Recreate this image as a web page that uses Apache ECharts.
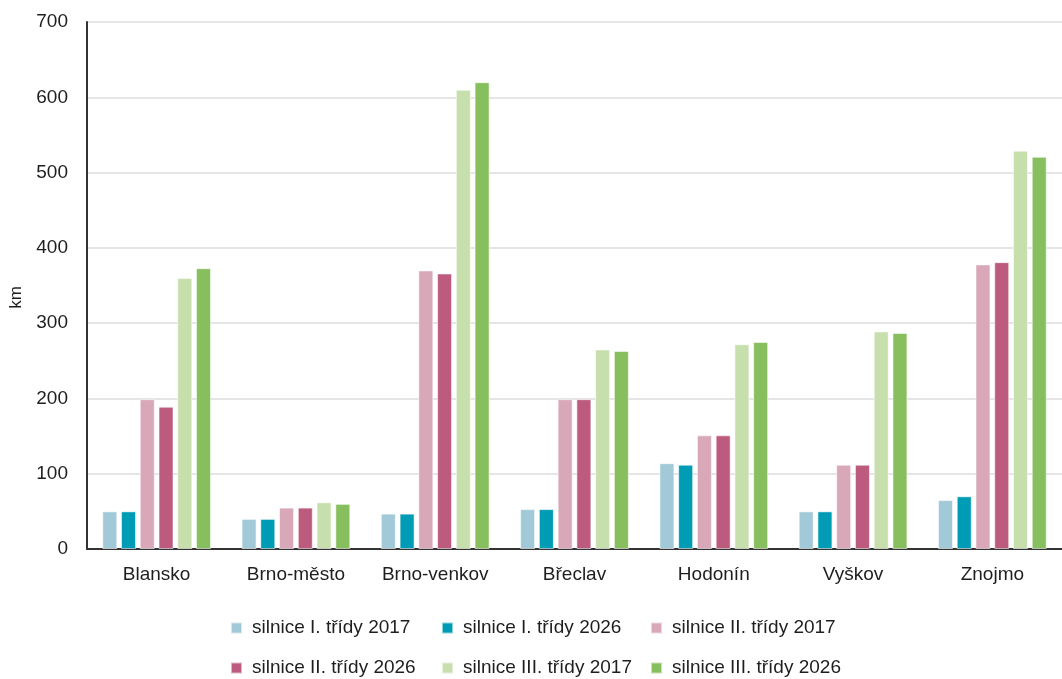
<!DOCTYPE html>
<html>
<head>
<meta charset="utf-8">
<script src="https://cdn.jsdelivr.net/npm/echarts@6/dist/echarts.min.js"></script>
<style>html,body{margin:0;padding:0;background:#fff;}#c{width:1062px;height:679px;}</style>
</head>
<body>
<div id="c"></div>
<script>
const categories = ['Blansko', 'Brno-město', 'Brno-venkov', 'Břeclav', 'Hodonín', 'Vyškov', 'Znojmo'];
const seriesNames = ['silnice I. třídy 2017', 'silnice I. třídy 2026', 'silnice II. třídy 2017', 'silnice II. třídy 2026', 'silnice III. třídy 2017', 'silnice III. třídy 2026'];
const roadI2017 = [50, 40, 47, 53, 114, 50, 65];
const roadI2026 = [50, 40, 47, 53, 112, 50, 70];
const roadII2017 = [199, 55, 370, 199, 151, 112, 378];
const roadII2026 = [189, 55, 366, 199, 151, 112, 381];
const roadIII2017 = [360, 62, 610, 265, 272, 289, 529];
const roadIII2026 = [373, 60, 620, 263, 275, 287, 521];
const yTicks = [0, 100, 200, 300, 400, 500, 600, 700];

const values = [roadI2017, roadI2026, roadII2017, roadII2026, roadIII2017, roadIII2026];
const colors = ['#a2c9d8', '#009bb5', '#d8a7b8', '#bd5b7e', '#c6dfad', '#88bf5e'];
const font = '"Liberation Sans", Arial, sans-serif';
const txt = '#1e1e1e';

const chart = echarts.init(document.getElementById('c'), null, {renderer: 'canvas'});
const legendCommon = {
  orient: 'vertical', icon: 'rect', itemWidth: 11, itemHeight: 11, itemGap: 20,
  top: 618, padding: 0,
  textStyle: {fontFamily: font, fontSize: 19, color: txt, lineHeight: 20, padding: [0, 0, 0, 5]}
};
chart.setOption({
  animation: false,
  color: colors,
  grid: {left: 87, top: 22, width: 980, height: 527, containLabel: false},
  legend: [
    Object.assign({}, legendCommon, {left: 230, data: [seriesNames[0], seriesNames[3]]}),
    Object.assign({}, legendCommon, {left: 441, data: [seriesNames[1], seriesNames[4]]}),
    Object.assign({}, legendCommon, {left: 650, data: [seriesNames[2], seriesNames[5]]})
  ],
  xAxis: {
    type: 'category', data: categories,
    axisLine: {lineStyle: {color: '#333', width: 2}},
    axisTick: {show: false},
    axisLabel: {fontFamily: font, fontSize: 19, color: txt, margin: 16}
  },
  yAxis: {
    type: 'value', min: yTicks[0], max: yTicks[yTicks.length - 1], interval: 100,
    name: 'km', nameLocation: 'middle', nameGap: 62, nameRotate: 90,
    nameTextStyle: {fontFamily: font, fontSize: 17, color: txt, padding: [0, 24, 0, 0]},
    axisLine: {show: true, lineStyle: {color: '#333', width: 2}},
    axisTick: {show: false},
    axisLabel: {fontFamily: font, fontSize: 19, color: txt, margin: 19},
    splitLine: {lineStyle: {color: '#dcdcdc', width: 1.5}}
  },
  series: seriesNames.map((n, i) => ({
    name: n, type: 'bar', data: values[i], barWidth: 15, barGap: '25%',
    itemStyle: {color: colors[i], borderColor: 'rgba(255,255,255,0.55)', borderWidth: 1}
  }))
});
</script>
</body>
</html>
